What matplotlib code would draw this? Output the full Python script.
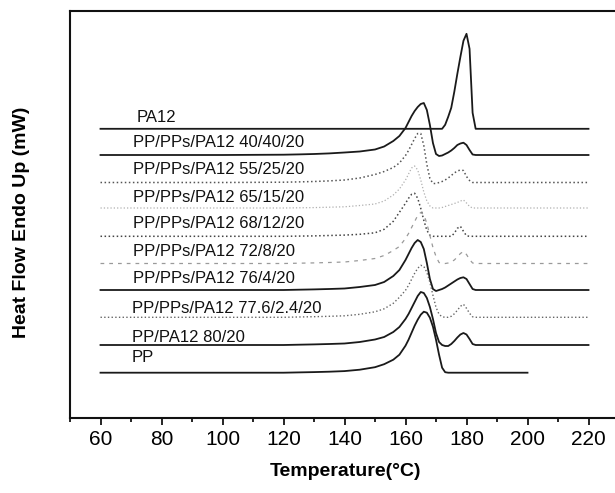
import numpy as np
import matplotlib.pyplot as plt

plt.rcParams['font.family'] = ['Liberation Sans', 'DejaVu Sans']

nan = np.nan

# temperature grid (deg C) the traces were read on
temp = [60, 100, 120, 125, 130, 135, 140, 145, 150, 153, 156, 158, 160, 161, 162,
        163, 164, 165, 166, 167, 168, 169, 170, 171, 172, 173, 174, 175, 176, 177,
        178, 179, 180, 181, 182, 183, 184, 190, 200, 210, 220]

# heat flow of each sample above its own baseline
pa12 = [0, 0, 0, 0, 0, 0, 0, 0, 0, 0, 0, 0, 0, 0, 0,
        0, 0, 0, 0, 0, 0, 0, 0, 0, 0, 4, 12, 21, 37, 55,
        72, 88, 95, 80, 16, 0, 0, 0, 0, 0, 0]
b40 = [0, 0, 0.3, 0.6, 1, 1.6, 2.5, 3.5, 5.5, 8.5, 14, 19, 27, 33, 39,
       44, 48, 51, 52, 45, 30, 12, 1, -1, -0.5, 1, 2.5, 4.5, 7, 10,
       11.5, 12.3, 10, 5, 0.5, 0, 0, 0, 0, 0, 0]
b55 = [0, 0, 0.3, 0.6, 1, 1.6, 2.5, 4.5, 8, 11, 15, 19.5, 27, 32, 38,
       44, 49, 49, 37, 18, 4, -1, -1, 0, 1, 2.5, 4.5, 7, 9.5, 11.5,
       12.5, 12, 6, 2, 0, 0, 0, 0, 0, 0, 0]
b65 = [0, 0, 0, 0.2, 0.4, 0.8, 1.2, 2.5, 4, 7, 13, 19, 28, 34, 40,
       42, 38, 28, 16, 7, 2, 0, 0, 0, 0.5, 1.5, 2.5, 3.5, 4.5, 5.5,
       7, 8, 5, 1.5, 0, 0, 0, 0, 0, 0, 0]
b68 = [0, 0, 0, 0.2, 0.4, 0.8, 1.2, 2, 3.5, 7, 15, 24, 33, 38, 42,
       43, 38, 28, 16, 6, 1, 0, 0, 0, 0, 0, 0, 0, 3, 8,
       10, 5, 0.5, 0, 0, 0, 0, 0, 0, 0, 0]
b72 = [0, 0, 0, 0.3, 0.6, 1, 1.5, 3, 5, 8, 13, 17, 25, 30, 36,
       42, 48, 51, 49, 40, 28, 16, 7, 1, 0, 0, 0.5, 1.5, 3.5, 6.5,
       10, 12, 9, 4, 0.5, 0, 0, 0, 0, 0, 0]
b76 = [0, 0, 0, 0.3, 0.6, 1, 1.5, 3, 5, 8, 14, 20, 30, 36, 42,
       47, 50, 48, 41, 27, 11, 1, -1, 0, 1, 2.5, 4.5, 6.5, 8.5, 10.5,
       12, 12.7, 11, 6, 1, 0, 0, 0, 0, 0, 0]
b77 = [0, 0, 0, 0.3, 0.6, 1, 1.5, 3, 5.5, 8.5, 14, 20, 27, 32, 38,
       44, 49, 52, 51, 45, 35, 22, 10, 3, 0.5, 0, 0, 1, 3.5, 7,
       11, 13, 9, 4, 0.5, 0, 0, 0, 0, 0, 0]
b80 = [0, 0, 0, 0.3, 0.6, 1, 1.5, 3, 5.5, 8, 13, 18, 26, 31, 37,
       43, 49, 53, 52, 47, 38, 26, 12, 3, 0, -1, -1, 1, 4, 7.5,
       10.5, 12, 10.5, 6, 1, 0, 0, 0, 0, 0, 0]
pp = [0, 0, 0, 0.3, 0.6, 1, 1.6, 3, 5.5, 8.5, 13, 18, 27, 33, 40,
      47, 53, 58, 61, 60, 55, 46, 33, 18, 5, 0.5, 0, 0, 0, 0,
      0, 0, 0, 0, 0, 0, 0, 0, 0, nan, nan]

labels = ["PA12", "PP/PPs/PA12 40/40/20", "PP/PPs/PA12 55/25/20",
          "PP/PPs/PA12 65/15/20", "PP/PPs/PA12 68/12/20", "PP/PPs/PA12 72/8/20",
          "PP/PPs/PA12 76/4/20", "PP/PPs/PA12 77.6/2.4/20", "PP/PA12 80/20", "PP"]
series = [pa12, b40, b55, b65, b68, b72, b76, b77, b80, pp]
offsets = [243.9, 217.7, 190.2, 164.7, 136.4, 109.2, 82.7, 55.4, 27.7, 0]

# look of each trace (scanned figure: solid and dotted greys)
styles = [("#1a1a1a", "-", 1.3), ("#1a1a1a", "-", 1.3), ("#555555", ":", 1.1),
          ("#b0b0b0", ":", 0.9), ("#444444", ":", 1.1), ("#9a9a9a", (0, (3, 4)), 0.9),
          ("#1a1a1a", "-", 1.3), ("#666666", ":", 1.0), ("#1a1a1a", "-", 1.3),
          ("#1a1a1a", "-", 1.3)]
label_x = [72, 70.7, 70.7, 70.7, 70.7, 70.7, 70.7, 70.2, 70.2, 70.2]
label_gap = [7, 8, 8.5, 6.3, 8.3, 7, 7, 4, 3.3, 11]

fig = plt.figure(figsize=(6.15, 4.93), dpi=100)
ax = fig.add_axes([70 / 615, 75.3 / 493, 549 / 615, 406.7 / 493])

t = np.array(temp)
for y, off, (c, ls, lw) in zip(series, offsets, styles):
    ax.plot(t, np.array(y) + off, color=c, linestyle=ls, linewidth=lw)

for name, x, off, gap in zip(labels, label_x, offsets, label_gap):
    ax.text(x, off + gap, name, fontsize=12, ha="left", va="baseline", color="#111111")

ax.set_xlim(50, 230)
ax.set_ylim(-45, 361.7)
ax.set_xticks(range(60, 221, 20))
ax.set_xticks(range(50, 231, 10), minor=True)
ax.set_yticks([])
ax.tick_params(axis="x", which="major", direction="out", length=5, width=1.2,
               labelsize=15, pad=3.5)
ax.tick_params(axis="x", which="minor", direction="out", length=3, width=1.2)
for s in ax.spines.values():
    s.set_linewidth(1.5)
    s.set_color("#111111")

fig.text(346 / 615, 1 - 472 / 493, "Temperature(°C)", fontsize=14, fontweight="bold",
         ha="center", va="center")
fig.text(22 / 615, 1 - 222 / 493, "Heat Flow Endo Up (mW)", fontsize=14,
         fontweight="bold", rotation=90, ha="center", va="center")

fig.savefig("out.png", dpi=100)
